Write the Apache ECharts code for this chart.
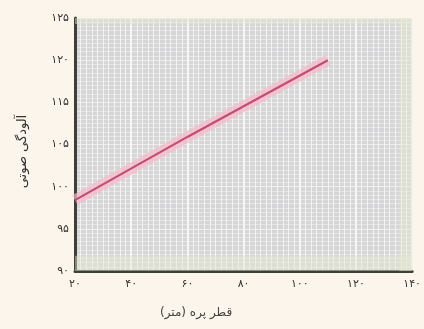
<!DOCTYPE html>
<html><head><meta charset="utf-8">
<script src="https://cdn.jsdelivr.net/npm/echarts@6/dist/echarts.min.js"></script>
<style>html,body{margin:0;padding:0;background:#fcf5ec;}#c{width:424px;height:329px;}</style>
</head><body><div id="c"></div>
<script>
// x: blade diameter (m); y: noise level (axis units as labelled)
const xTickLabels = ['۲۰','۴۰','۶۰','۸۰','۱۰۰','۱۲۰','۱۴۰'];
const yTickLabels = ['۹۰','۹۵','۱۰۰','۱۰۵','۱۱۵','۱۲۰','۱۲۵'];
const xValues = [20, 60, 110];
const yValues = [98.4, 105.9, 115];
const xName = 'قطر پره (متر)';
const yName = 'آلودگی صوتی';

const pts = xValues.map((x,i)=>[x, yValues[i]]);
const chart = echarts.init(document.getElementById('c'), null, {renderer:'canvas'});
const font = 'DejaVu Sans';
chart.setOption({
  backgroundColor:'#fcf5ec',
  animation:false,
  grid:{left:75,right:9,top:18,bottom:58,show:true,backgroundColor:'#d6d6d8',borderWidth:0},
  xAxis:{type:'value',min:20,max:140,interval:20,
    name:xName,nameLocation:'middle',nameGap:36,
    nameTextStyle:{fontFamily:font,fontSize:12,color:'#444',padding:[0,95,0,0]},
    axisLine:{show:true,onZero:false,lineStyle:{color:'#3d4036',width:3}},
    axisTick:{show:false},
    axisLabel:{fontFamily:font,fontSize:11,color:'#333',margin:8,
      formatter:(v)=>xTickLabels[Math.round((v-20)/20)]},
    splitLine:{show:true,lineStyle:{color:'#f6f6f2',width:2}},
    minorTick:{show:false,splitNumber:10},
    minorSplitLine:{show:true,lineStyle:{color:'#f2f2f0',width:1}}
  },
  yAxis:{type:'value',min:90,max:120,interval:5,
    name:yName,nameLocation:'middle',nameGap:46,nameRotate:90,
    nameTextStyle:{fontFamily:font,fontSize:13,color:'#333',padding:[0,14,0,0]},
    axisLine:{show:true,lineStyle:{color:'#3d4036',width:3}},
    axisTick:{show:false},
    axisLabel:{fontFamily:font,fontSize:11,color:'#333',margin:6,
      formatter:(v)=>yTickLabels[Math.round((v-90)/5)]},
    splitLine:{show:true,lineStyle:{color:'#eeeeec',width:1}},
    minorTick:{show:false,splitNumber:10},
    minorSplitLine:{show:true,lineStyle:{color:'#e6e6e5',width:1}}
  },
  series:[
    {type:'line',data:pts,symbol:'none',silent:true,z:2,
     lineStyle:{color:'#f6b9cc',width:11,opacity:0.7},
     markArea:{silent:true,itemStyle:{color:'rgba(228,232,208,0.45)'},
       data:[[{xAxis:135.5},{xAxis:140}],[{yAxis:90},{yAxis:91.8}],[{yAxis:119.3},{yAxis:120}]]}},
    {type:'line',data:pts,symbol:'none',z:3,
     lineStyle:{color:'#c44d71',width:2.2}}
  ]
});
</script></body></html>
